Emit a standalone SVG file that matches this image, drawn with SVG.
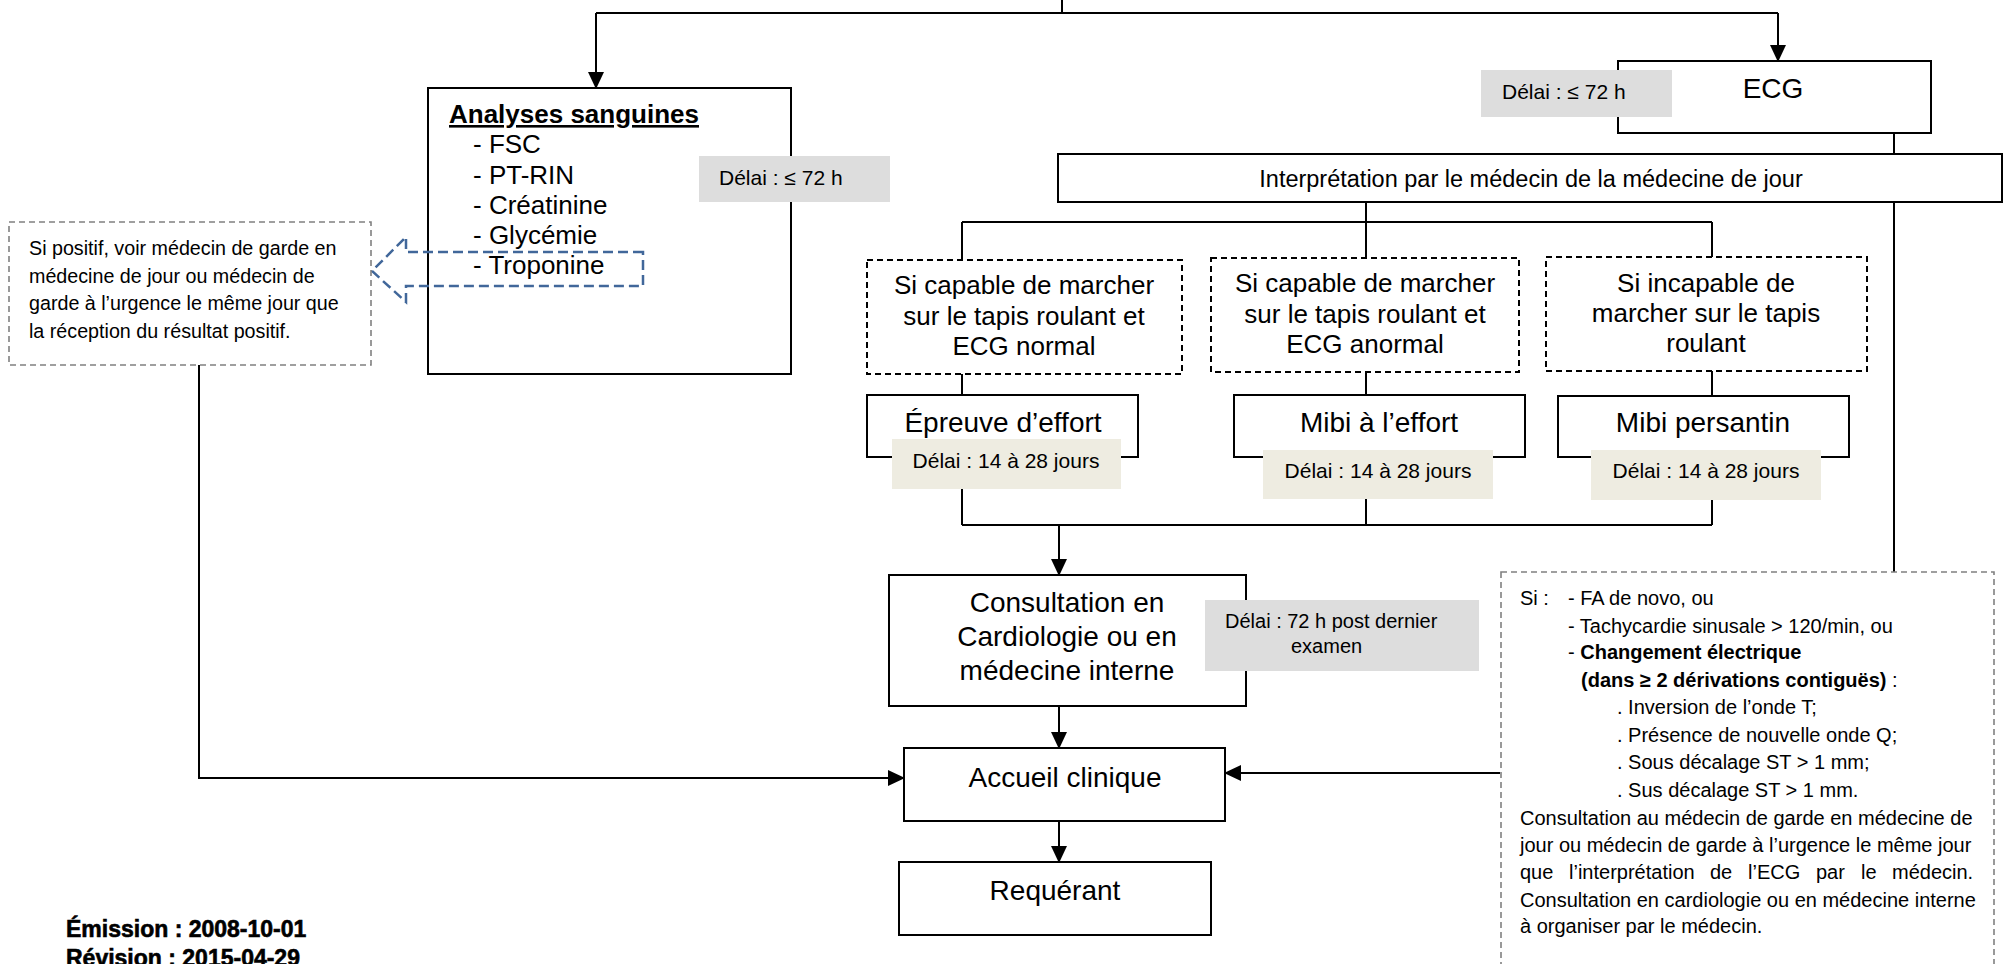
<svg xmlns="http://www.w3.org/2000/svg" width="2007" height="964" viewBox="0 0 2007 964">
  <defs>
    <marker id="arrow" markerUnits="userSpaceOnUse" markerWidth="17" markerHeight="16" refX="16" refY="8" orient="auto">
      <path d="M0,0 L17,8 L0,16 z" fill="#000"/>
    </marker>
  </defs>
  <style>
    .box { fill: #fff; stroke: #000; stroke-width: 2; }
    .cond { fill: #fff; stroke: #000; stroke-width: 2; stroke-dasharray: 6 4; }
    .note { fill: #fff; stroke: #808080; stroke-width: 1.6; stroke-dasharray: 6 4; }
    .delay-gray { fill: #dddddd; }
    .delay-tan { fill: #eeece1; }
    .wire { fill: none; stroke: #000; stroke-width: 2; }
    .callout { fill: none; stroke: #41679a; stroke-width: 2.5; stroke-dasharray: 10 5; }
    text { font-family: "Liberation Sans", Arial, sans-serif; fill: #000; }
    .big { font-size: 28px; text-anchor: middle; }
    .mid { font-size: 26px; }
    .midc { font-size: 26px; text-anchor: middle; }
    .small { font-size: 21px; }
    .smallc { font-size: 21px; text-anchor: middle; }
    .interp { font-size: 23.5px; text-anchor: middle; }
    .notetxt { font-size: 19.7px; }
    .ruletxt { font-size: 20px; }
    .b { font-weight: bold; }
    .stamp { font-size: 23px; font-weight: bold; stroke: #000; stroke-width: 0.6; }
  </style>

  <!-- connectors -->
  <g id="connectors">
    <path class="wire" d="M1062,0 V13 M596,13 H1778"/>
    <path class="wire" d="M596,13 V88" marker-end="url(#arrow)"/>
    <path class="wire" d="M1778,13 V61" marker-end="url(#arrow)"/>
    <path class="wire" d="M1894,133 V154 M1894,202 V572"/>
    <path class="wire" d="M1366,202 V258 M962,222 H1712 M962,222 V260 M1712,222 V257"/>
    <path class="wire" d="M962,374 V395 M1366,372 V395 M1712,371 V396"/>
    <path class="wire" d="M962,489 V525 M1366,499 V525 M1712,500 V525 M962,525 H1712"/>
    <path class="wire" d="M1059,525 V575" marker-end="url(#arrow)"/>
    <path class="wire" d="M1059,706 V748" marker-end="url(#arrow)"/>
    <path class="wire" d="M1059,821 V862" marker-end="url(#arrow)"/>
    <path class="wire" d="M199,365 V778 H904" marker-end="url(#arrow)"/>
    <path class="wire" d="M1500,773 H1225" marker-end="url(#arrow)"/>
  </g>

  <!-- blood tests -->
  <g id="analyses">
    <rect class="box" x="428" y="88" width="363" height="286"/>
    <text class="mid b" x="449" y="123" text-decoration="underline">Analyses sanguines</text>
    <text class="mid" x="473" y="153">- FSC</text>
    <text class="mid" x="473" y="184">- PT-RIN</text>
    <text class="mid" x="473" y="214">- Créatinine</text>
    <text class="mid" x="473" y="244">- Glycémie</text>
    <text class="mid" x="473" y="274">- Troponine</text>
    <rect class="delay-gray" x="699" y="156" width="191" height="46"/>
    <text class="small" x="719" y="185">Délai : ≤ 72 h</text>
  </g>

  <!-- troponin callout arrow -->
  <g id="troponine-callout">
    <polygon class="callout" points="643,252 406,252 406,237 372,271 406,302 406,286 643,286"/>
  </g>

  <!-- positive result note -->
  <g id="note-positif">
    <rect class="note" x="9" y="222" width="362" height="143"/>
    <text class="notetxt" x="29" y="255">Si positif, voir médecin de garde en</text>
    <text class="notetxt" x="29" y="283">médecine de jour ou médecin de</text>
    <text class="notetxt" x="29" y="310">garde à l’urgence le même jour que</text>
    <text class="notetxt" x="29" y="338">la réception du résultat positif.</text>
  </g>

  <!-- ECG -->
  <g id="ecg">
    <rect class="box" x="1618" y="61" width="313" height="72"/>
    <text class="big" x="1773" y="98">ECG</text>
    <rect class="delay-gray" x="1481" y="70" width="191" height="47"/>
    <text class="small" x="1502" y="99">Délai : ≤ 72 h</text>
  </g>

  <!-- ECG interpretation -->
  <g id="interpretation">
    <rect class="box" x="1058" y="154" width="944" height="48"/>
    <text class="interp" x="1531" y="187">Interprétation par le médecin de la médecine de jour</text>
  </g>

  <!-- walking conditions -->
  <g id="cond-normal">
    <rect class="cond" x="867" y="260" width="315" height="114"/>
    <text class="midc" x="1024" y="294">Si capable de marcher</text>
    <text class="midc" x="1024" y="325">sur le tapis roulant et</text>
    <text class="midc" x="1024" y="355">ECG normal</text>
  </g>
  <g id="cond-anormal">
    <rect class="cond" x="1211" y="258" width="308" height="114"/>
    <text class="midc" x="1365" y="292">Si capable de marcher</text>
    <text class="midc" x="1365" y="323">sur le tapis roulant et</text>
    <text class="midc" x="1365" y="353">ECG anormal</text>
  </g>
  <g id="cond-incapable">
    <rect class="cond" x="1546" y="257" width="321" height="114"/>
    <text class="midc" x="1706" y="292">Si incapable de</text>
    <text class="midc" x="1706" y="322">marcher sur le tapis</text>
    <text class="midc" x="1706" y="352">roulant</text>
  </g>

  <!-- tests -->
  <g id="epreuve-effort">
    <rect class="box" x="867" y="395" width="271" height="62"/>
    <text class="big" x="1003" y="432">Épreuve d’effort</text>
    <rect class="delay-tan" x="892" y="439" width="229" height="50"/>
    <text class="smallc" x="1006" y="468">Délai : 14 à 28 jours</text>
  </g>
  <g id="mibi-effort">
    <rect class="box" x="1234" y="395" width="291" height="62"/>
    <text class="big" x="1379" y="432">Mibi à l’effort</text>
    <rect class="delay-tan" x="1263" y="450" width="230" height="49"/>
    <text class="smallc" x="1378" y="478">Délai : 14 à 28 jours</text>
  </g>
  <g id="mibi-persantin">
    <rect class="box" x="1558" y="396" width="291" height="61"/>
    <text class="big" x="1703" y="432">Mibi persantin</text>
    <rect class="delay-tan" x="1591" y="450" width="230" height="50"/>
    <text class="smallc" x="1706" y="478">Délai : 14 à 28 jours</text>
  </g>

  <!-- consultation -->
  <g id="consultation">
    <rect class="box" x="889" y="575" width="357" height="131"/>
    <text class="big" x="1067" y="612">Consultation en</text>
    <text class="big" x="1067" y="646">Cardiologie ou en</text>
    <text class="big" x="1067" y="680">médecine interne</text>
    <rect class="delay-gray" x="1205" y="600" width="274" height="71"/>
    <text class="ruletxt" x="1225" y="628">Délai : 72 h post dernier</text>
    <text class="ruletxt" x="1291" y="653">examen</text>
  </g>

  <!-- clinical reception -->
  <g id="accueil">
    <rect class="box" x="904" y="748" width="321" height="73"/>
    <text class="big" x="1065" y="787">Accueil clinique</text>
  </g>

  <!-- requester -->
  <g id="requerant">
    <rect class="box" x="899" y="862" width="312" height="73"/>
    <text class="big" x="1055" y="900">Requérant</text>
  </g>

  <!-- ECG findings note -->
  <g id="note-ecg">
    <rect class="note" x="1501" y="572" width="493" height="420"/>
    <text class="ruletxt" x="1520" y="605">Si :</text>
    <text class="ruletxt" x="1568" y="605">- FA de novo, ou</text>
    <text class="ruletxt" x="1568" y="633">- Tachycardie sinusale &gt; 120/min, ou</text>
    <text class="ruletxt" x="1568" y="659">- <tspan class="b">Changement électrique</tspan></text>
    <text class="ruletxt" x="1581" y="687"><tspan class="b">(dans ≥ 2 dérivations contiguës)</tspan> :</text>
    <text class="ruletxt" x="1617" y="714">. Inversion de l’onde T;</text>
    <text class="ruletxt" x="1617" y="742">. Présence de nouvelle onde Q;</text>
    <text class="ruletxt" x="1617" y="769">. Sous décalage ST &gt; 1 mm;</text>
    <text class="ruletxt" x="1617" y="797">. Sus décalage ST &gt; 1 mm.</text>
    <text class="ruletxt" x="1520" y="825">Consultation au médecin de garde en médecine de</text>
    <text class="ruletxt" x="1520" y="852">jour ou médecin de garde à l’urgence le même jour</text>
    <text class="ruletxt" y="879"><tspan x="1520">que</tspan><tspan x="1569">l’interprétation</tspan><tspan x="1710">de</tspan><tspan x="1748">l’ECG</tspan><tspan x="1816">par</tspan><tspan x="1861">le</tspan><tspan x="1892">médecin.</tspan></text>
    <text class="ruletxt" x="1520" y="907">Consultation en cardiologie ou en médecine interne</text>
    <text class="ruletxt" x="1520" y="933">à organiser par le médecin.</text>
  </g>

  <!-- document dates -->
  <g id="dates">
    <text class="stamp" x="66" y="937">Émission : 2008-10-01</text>
    <text class="stamp" x="66" y="966">Révision : 2015-04-29</text>
  </g>
</svg>
